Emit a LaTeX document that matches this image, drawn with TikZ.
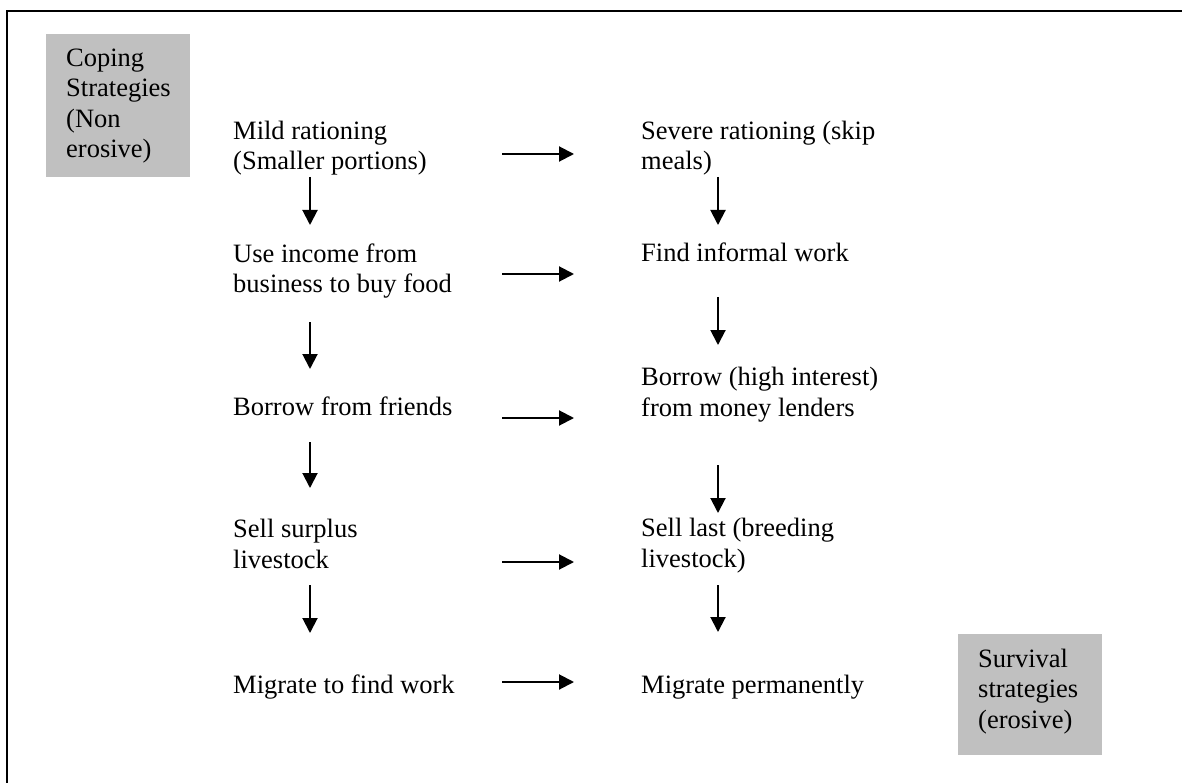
\documentclass[tikz,border=0pt]{standalone}
\usepackage{fontspec}
\setmainfont{Liberation Serif}
\usetikzlibrary{arrows.meta}

\definecolor{boxgray}{RGB}{192,192,192}

\tikzset{
	lbl/.style={anchor=base west, align=left, inner sep=0pt, font=\fontsize{26.5}{30.5}\selectfont},
	arr/.style={-{Triangle[length=15pt,width=15pt]}, line width=2pt},
	frame/.style={line width=2pt},
}

\begin{document}
\begin{tikzpicture}[x=1pt,y=-1pt]

	\useasboundingbox (0,0) rectangle (1182,783);

	%outer frame (cut at the page edge)
	\draw[frame] (6.5,800) -- (6.5,11) -- (1200,11);

	%grey boxes (labels placed at the baseline of their last line)
	\fill[boxgray] (46,34) rectangle (190,177);
	\fill[boxgray] (958,634) rectangle (1102,755);
	\node[lbl] (coping) at (66,158) {Coping\\Strategies\\(Non\\erosive)};
	\node[lbl] (survival) at (978,728) {Survival\\strategies\\(erosive)};

	%left column
	\node[lbl] (mild) at (233,170) {Mild rationing\\(Smaller portions)};
	\node[lbl] (income) at (233,293) {Use income from\\business to buy food};
	\node[lbl] (friends) at (233,415) {Borrow from friends};
	\node[lbl] (surplus) at (233,568) {Sell surplus\\livestock};
	\node[lbl] (migwork) at (233,693) {Migrate to find work};

	%right column
	\node[lbl] (severe) at (641,170) {Severe rationing (skip\\meals)};
	\node[lbl] (informal) at (641,262) {Find informal work};
	\node[lbl] (lenders) at (641,416) {Borrow (high interest)\\from money lenders};
	\node[lbl] (lastlive) at (641,567) {Sell last (breeding\\livestock)};
	\node[lbl] (migperm) at (641,693) {Migrate permanently};

	%arrows down the left column
	\foreach \a/\b [count=\i] in {177/225,322/369,442/488,585/633}{
		\coordinate (l\i top) at (310,\a);
		\coordinate (l\i bot) at (310,\b);
		\draw[arr] (l\i top) -- (l\i bot);
	}

	%arrows down the right column
	\foreach \a/\b [count=\i] in {177/225,297/345,465/513,585/632}{
		\coordinate (r\i top) at (718,\a);
		\coordinate (r\i bot) at (718,\b);
		\draw[arr] (r\i top) -- (r\i bot);
	}

	%arrows across
	\foreach \y [count=\i] in {154,274,418,562,682}{
		\coordinate (h\i from) at (502,\y);
		\coordinate (h\i to) at (574,\y);
		\draw[arr] (h\i from) -- (h\i to);
	}

\end{tikzpicture}
\end{document}
